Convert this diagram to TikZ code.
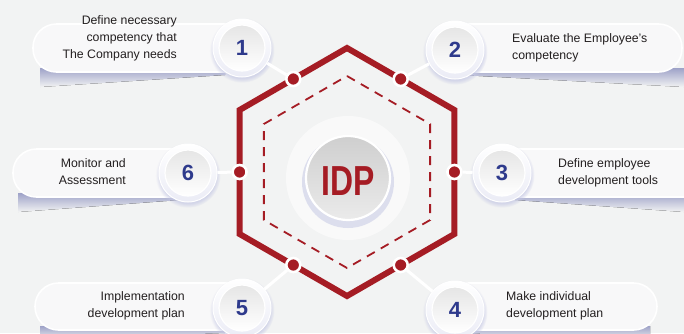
\documentclass[tikz,border=0pt]{standalone}
\usepackage{fontspec}
\setmainfont{Liberation Sans}
\usetikzlibrary{calc}
\usetikzlibrary{shadows}

\definecolor{bgGrey}{HTML}{F2F3F3}
\definecolor{idpRed}{HTML}{A51C24}
\definecolor{numBlue}{HTML}{2E3A8C}
\definecolor{txtDark}{HTML}{231F20}
\definecolor{haloBlue}{HTML}{C5C8E4}
\definecolor{shadowBlue}{HTML}{9EA2C8}
\definecolor{pillFill}{HTML}{F8F8F9}

\begin{document}
\begin{tikzpicture}[x=1pt, y=-1pt,
	pill/.style={draw=white, line width=1.6pt, fill=pillFill, rounded corners=23.5pt},
	pillshadow/.style={top color=shadowBlue, bottom color=bgGrey},
	ring/.style={circle, minimum size=58pt, inner sep=0pt, draw=white, line width=1pt,
		top color=white, bottom color=haloBlue!35!white,
		circular drop shadow={shadow xshift=0pt, shadow yshift=-2pt, shadow scale=1.12, fill=haloBlue, opacity=0.7}},
	numdisc/.style={circle, minimum size=46pt, inner sep=0pt, draw=white, line width=1.2pt,
		top color=black!10, bottom color=white, text=numBlue,
		font=\bfseries\fontsize{22}{22}\selectfont},
	dot/.style={circle, minimum size=14pt, inner sep=0pt, fill=idpRed, draw=white, line width=2.6pt},
	link/.style={draw=white, line width=3pt},
	lbl/.style={inner sep=0pt, text=txtDark, font=\fontsize{12.3}{17}\selectfont}
]

	\def\Rout{124} %outer hexagon radius
	\def\Rin{96} %dashed hexagon radius
	\def\Rmid{107.4} %edge midpoint distance
	%canvas
	\useasboundingbox (0,0) rectangle (684,333);
	\fill[bgGrey] (0,0) rectangle (684,333);

	%hexagon centre and idp centre
	\coordinate (hex) at (347,172);
	\coordinate (idp) at (348,178);

	%idp glow
	\fill[white, opacity=0.55] (idp) circle (62);
	\fill[haloBlue, opacity=0.55] ($(idp)+(0,4)$) circle (46);

	%hexagons
	\draw[idpRed, line width=6pt, line join=miter]
		($(hex)+(-90:\Rout)$) -- ($(hex)+(-30:\Rout)$) -- ($(hex)+(30:\Rout)$) --
		($(hex)+(90:\Rout)$) -- ($(hex)+(150:\Rout)$) -- ($(hex)+(210:\Rout)$) -- cycle;
	\draw[idpRed, line width=1.8pt, dash pattern=on 9pt off 7pt]
		($(hex)+(-90:\Rin)$) -- ($(hex)+(-30:\Rin)$) -- ($(hex)+(30:\Rin)$) --
		($(hex)+(90:\Rin)$) -- ($(hex)+(150:\Rin)$) -- ($(hex)+(210:\Rin)$) -- cycle;

	%centre disc
	\node[circle, minimum size=84pt, inner sep=0pt, draw=white, line width=2.2pt,
		top color=black!19, bottom color=black!8] (core) at (idp) {};
	\node[text=idpRed, font=\bfseries\fontsize{42}{42}\selectfont] (idptext) at ($(idp)+(0,3)$) {\scalebox{0.76}[1]{IDP}};

	%pill shadows
	\fill[pillshadow] (40,68) -- (225,68) -- (225,75) -- (40,87) -- cycle;
	\fill[pillshadow] (460,68) -- (684,68) -- (684,87) -- (460,75) -- cycle;
	\fill[pillshadow] (18,193) -- (180,193) -- (180,200) -- (18,212) -- cycle;
	\fill[pillshadow] (515,193) -- (684,193) -- (684,212) -- (515,200) -- cycle;
	\fill[pillshadow] (40,326) -- (225,326) -- (225,333) -- (40,340) -- cycle;
	\fill[pillshadow] (460,326) -- (650,326) -- (650,340) -- (460,333) -- cycle;

	%pills
	\draw[pill] (33,24) rectangle (255,72);
	\draw[pill] (445,24) rectangle (682,72);
	\draw[pill] (13,149) rectangle (200,197);
	\draw[pill] (490,149) rectangle (720,197);
	\draw[pill] (35,283) rectangle (255,330);
	\draw[pill] (445,283) rectangle (657,330);

	%number rings
	\node[ring] (h1) at (242,48) {};
	\node[ring] (h2) at (455,50) {};
	\node[ring] (h3) at (502,173) {};
	\node[ring] (h4) at (455,310) {};
	\node[ring] (h5) at (242,308) {};
	\node[ring] (h6) at (188,173) {};

	%dots on the hexagon
	\node[dot] (d1) at ($(hex)+(-120:\Rmid)$) {};
	\node[dot] (d2) at ($(hex)+(-60:\Rmid)$) {};
	\node[dot] (d3) at ($(hex)+(0:\Rmid)$) {};
	\node[dot] (d4) at ($(hex)+(60:\Rmid)$) {};
	\node[dot] (d5) at ($(hex)+(120:\Rmid)$) {};
	\node[dot] (d6) at ($(hex)+(180:\Rmid)$) {};

	%links
	\draw[link] (h1) -- (d1);
	\draw[link] (h2) -- (d2);
	\draw[link] (h3) -- (d3);
	\draw[link] (h4) -- (d4);
	\draw[link] (h5) -- (d5);
	\draw[link] (h6) -- (d6);

	%numbers
	\node[numdisc] (n1) at (h1) {1};
	\node[numdisc] (n2) at (h2) {2};
	\node[numdisc] (n3) at (h3) {3};
	\node[numdisc] (n4) at (h4) {4};
	\node[numdisc] (n5) at (h5) {5};
	\node[numdisc] (n6) at (h6) {6};

	%labels
	\node[lbl, align=right, anchor=east] (t1) at (177,38) {Define necessary\\competency that\\The Company needs};
	\node[lbl, align=left, anchor=west] (t2) at (512,47.5) {Evaluate the Employee’s\\competency};
	\node[lbl, align=left, anchor=west] (t3) at (558,172.5) {Define employee\\development tools};
	\node[lbl, align=left, anchor=west] (t4) at (506,305.5) {Make individual\\development plan};
	\node[lbl, align=right, anchor=east] (t5) at (185,306) {Implementation\\development plan};
	\node[lbl, align=right, anchor=east] (t6) at (126,172) {Monitor and\\Assessment};

\end{tikzpicture}
\end{document}
